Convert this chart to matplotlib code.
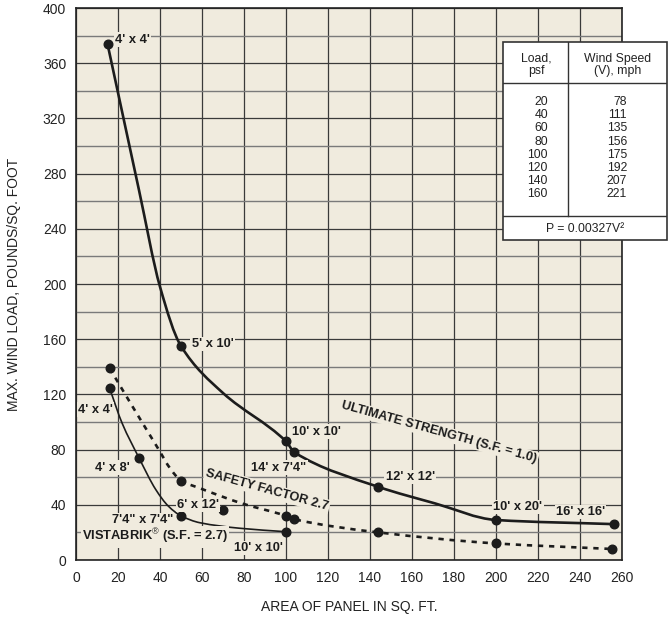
import numpy as np
import matplotlib.pyplot as plt
from matplotlib.path import Path
from matplotlib.patches import PathPatch, Rectangle

plt.rcParams['font.family'] = ['Liberation Sans', 'DejaVu Sans']
plt.rcParams['mathtext.fontset'] = 'custom'
plt.rcParams['mathtext.rm'] = 'Liberation Sans'
plt.rcParams['mathtext.bf'] = 'Liberation Sans:bold'

# Curve traces (area sq.ft, load psf)
ult_x = [15, 30, 40, 50, 70, 100, 104, 144, 171, 200, 256]
ult_y = [374, 268, 198, 155, 121, 86, 78, 53, 41, 29, 26]
sf_x = [16, 27, 39, 45, 50, 59, 79, 100, 104, 144, 200, 255]
sf_y = [139, 111, 81, 66, 57.5, 52, 41, 32, 29.5, 20, 12, 8]
vb_x = [16, 22, 30, 38, 44, 50, 59, 78, 100]
vb_y = [124.5, 99, 74, 51, 39, 32, 27, 23, 20.5]

# Marked panel sizes
ult_mx = [15, 50, 100, 104, 144, 200, 256]
ult_my = [374, 155, 86, 78, 53, 29, 26]
sf_mx = [16, 50, 100, 104, 144, 200, 255]
sf_my = [139, 57.5, 32, 29.5, 20, 12, 8]
vb_mx = [16, 30, 50, 100]
vb_my = [124.5, 74, 32, 20.5]
extra_x = [70]
extra_y = [36]

# labels: text, x, y
point_labels = [
    ("4' x 4'", 18.5, 377),
    ("5' x 10'", 55, 156.5),
    ("10' x 10'", 103, 93),
    ("14' x 7'4\"", 83.5, 67),
    ("12' x 12'", 147.5, 60),
    ("10' x 20'", 198.8, 38.4),
    ("16' x 16'", 228.6, 34.8),
    ("4' x 4'", 1, 109),
    ("4' x 8'", 9, 67),
    ("6' x 12'", 48, 40),
    ("7'4\" x 7'4\"", 17, 29),
    ("10' x 10'", 75.4, 8.7),
]

load_psf = [20, 40, 60, 80, 100, 120, 140, 160]
wind_mph = [78, 111, 135, 156, 175, 192, 207, 221]

BG = '#f0ebde'
INK = '#1c1c1c'


def smooth_path(xs, ys):
    # monotone cubic (Fritsch-Butland tangents) drawn as bezier segments
    x = np.asarray(xs, float)
    y = np.asarray(ys, float)
    h = np.diff(x)
    d = np.diff(y) / h
    m = np.zeros_like(x)
    m[0], m[-1] = d[0], d[-1]
    for k in range(1, len(x) - 1):
        if d[k - 1] * d[k] > 0:
            m[k] = 2 * d[k - 1] * d[k] / (d[k - 1] + d[k])
    verts = [(x[0], y[0])]
    codes = [Path.MOVETO]
    for k in range(len(x) - 1):
        verts += [(x[k] + h[k] / 3, y[k] + m[k] * h[k] / 3),
                  (x[k + 1] - h[k] / 3, y[k + 1] - m[k + 1] * h[k] / 3),
                  (x[k + 1], y[k + 1])]
        codes += [Path.CURVE4] * 3
    return Path(verts, codes)


fig = plt.figure(figsize=(6.71, 6.18), dpi=100)
ax = fig.add_axes([76 / 671, 1 - 560 / 618, 546 / 671, 552 / 618])
ax.set_facecolor(BG)
ax.set_xlim(0, 260)
ax.set_ylim(0, 400)

ax.set_xticks(np.arange(0, 261, 20))
ax.set_yticks(np.arange(0, 401, 40))
ax.set_yticks(np.arange(20, 400, 40), minor=True)
ax.grid(True, which='major', color='#3a3a3a', lw=0.9, zorder=0)
ax.grid(True, which='minor', axis='y', color='#7a7a7a', lw=1.0, zorder=0)
ax.tick_params(which='both', length=0, labelsize=10, colors='#222222')
ax.tick_params(axis='x', pad=8)
ax.tick_params(axis='y', pad=7)
for s in ax.spines.values():
    s.set_color('#222222')
    s.set_linewidth(1.2)

ax.set_xlabel('AREA OF PANEL IN SQ. FT.', fontsize=10, color='#222222')
ax.set_ylabel('MAX. WIND LOAD, POUNDS/SQ. FOOT', fontsize=10, color='#222222')
ax.xaxis.set_label_coords(0.5, -0.072)
ax.yaxis.set_label_coords(-0.1, 0.5)

# curves
ax.add_patch(PathPatch(smooth_path(ult_x, ult_y), fill=False, ec=INK, lw=1.9, zorder=3))
ax.add_patch(PathPatch(smooth_path(vb_x, vb_y), fill=False, ec=INK, lw=1.2, zorder=3))
ax.add_patch(PathPatch(smooth_path(sf_x, sf_y), fill=False, ec=INK, lw=1.9,
                       ls=(0, (2.0, 2.2)), capstyle='butt', zorder=3))

for mx, my in [(ult_mx, ult_my), (sf_mx, sf_my), (vb_mx, vb_my), (extra_x, extra_y)]:
    ax.plot(mx, my, 'o', color=INK, ms=6.2, zorder=4)

box = dict(boxstyle='square,pad=0.1', fc=BG, ec='none')
for txt, x, y in point_labels:
    ax.text(x, y, txt, fontsize=9.3, fontweight='bold', color=INK,
            ha='left', va='center', bbox=box, zorder=5)

ax.text(2.8, 16.7, r'VISTABRIK$^{\circledR}$ (S.F. = 2.7)', fontsize=9.3, fontweight='bold',
        color=INK, ha='left', va='center', bbox=box, zorder=5)
ax.text(173, 92.5, 'ULTIMATE STRENGTH (S.F. = 1.0)', fontsize=9.2, fontweight='bold',
        color=INK, ha='center', va='center', rotation=-15.5, rotation_mode='anchor',
        bbox=box, zorder=5)
ax.text(91, 50.7, 'SAFETY FACTOR 2.7', fontsize=9.2, fontweight='bold', color=INK,
        ha='center', va='center', rotation=-15.5, rotation_mode='anchor', bbox=box, zorder=5)

# wind speed table (pixel layout)
tab = fig.add_axes([503 / 671, 1 - 240 / 618, 164 / 671, 198 / 618])
tab.set_xlim(503, 667)
tab.set_ylim(240, 42)
tab.axis('off')
tab.add_patch(Rectangle((503, 42), 164, 198, fc='white', ec='#333333', lw=1.2, clip_on=False))
tab.plot([503, 667], [83, 83], color='#333333', lw=1.0)
tab.plot([503, 667], [216, 216], color='#333333', lw=1.0)
tab.plot([568, 568], [42, 216], color='#333333', lw=1.0)
tab.text(536, 65, 'Load,\npsf', ha='center', va='center', fontsize=8.8, color='#222222', linespacing=1.05)
tab.text(618, 65, 'Wind Speed\n(V), mph', ha='center', va='center', fontsize=8.8, color='#222222', linespacing=1.05)
for i, (p, v) in enumerate(zip(load_psf, wind_mph)):
    yy = 102 + i * 13.2
    tab.text(548, yy, str(p), ha='right', va='center', fontsize=8.8, color='#222222')
    tab.text(627, yy, str(v), ha='right', va='center', fontsize=8.8, color='#222222')
tab.text(585, 229, 'P = 0.00327V\u00b2', ha='center', va='center', fontsize=8.8, color='#222222')

fig.savefig('out.png', dpi=100)
